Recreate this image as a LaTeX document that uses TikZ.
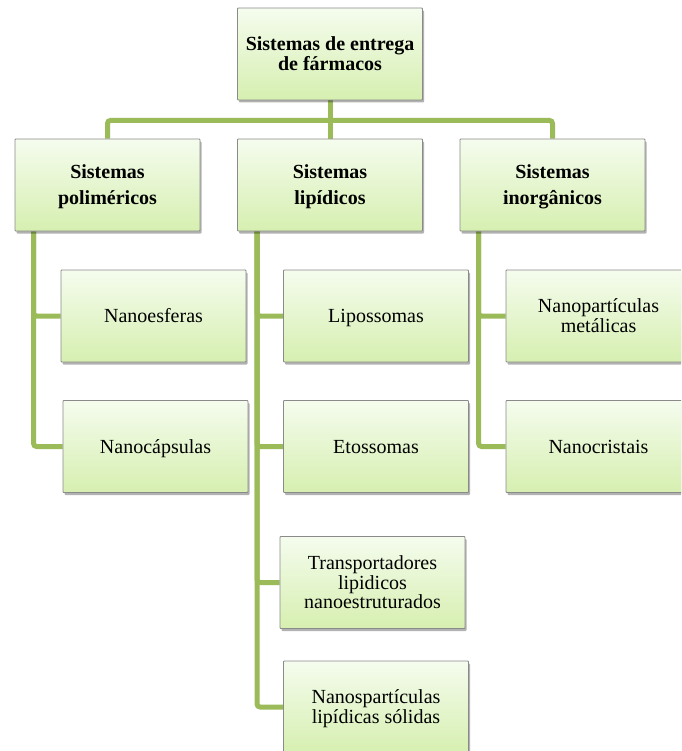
\documentclass[tikz,border=0pt]{standalone}
\usepackage{fontspec}
\setmainfont{Liberation Serif}
\usetikzlibrary{shadows,calc}
\pgfdeclarelayer{background}
\pgfsetlayers{background,main}
\definecolor{conncol}{HTML}{9BBB59}
\definecolor{boxborder}{HTML}{8A8A8A}
\definecolor{boxtop}{HTML}{F5FCEE}
\definecolor{boxbot}{HTML}{D6EFB0}
\newcommand\bxtop{\rule{0pt}{18pt}}
\newcommand\bxbot{\rule[-4.8pt]{0pt}{4.8pt}}
\AtBeginDocument{\lineskiplimit=-50pt}
\tikzset{
  boxnode/.style={rectangle, draw=boxborder, line width=0.9pt, top color=boxtop, bottom color=boxbot,
    minimum width=185pt, minimum height=92pt, inner sep=0pt, align=center, text=black,
    rounded corners=0.8pt,
    drop shadow={shadow xshift=1.5pt, shadow yshift=-2.5pt, opacity=0.3, fill=black}},
  topbox/.style={boxnode, font=\fontsize{20}{19.5}\selectfont\bfseries},
  lvlbox/.style={boxnode, font=\fontsize{20}{26}\selectfont\bfseries},
  leafbox/.style={boxnode, font=\fontsize{20}{19.5}\selectfont},
  conn/.style={draw=conncol, line width=5pt, rounded corners=3pt}
}
\begin{document}
\begin{tikzpicture}[x=1pt,y=-1pt]
\useasboundingbox (0,0) rectangle (681,751);
\clip (0,0) rectangle (681,751);
% nodes
\node[topbox] (root) at (330,54) {\bxtop Sistemas de entrega\\de fármacos\bxbot};
\node[lvlbox] (pol) at (107.5,185) {\bxtop Sistemas\\poliméricos\bxbot};
\node[lvlbox] (lip) at (330,185) {\bxtop Sistemas\\lipídicos\bxbot};
\node[lvlbox] (ino) at (552.5,185) {\bxtop Sistemas\\inorgânicos\bxbot};
\node[leafbox] (nesf) at (153.5,316) {\bxtop Nanoesferas\bxbot};
\node[leafbox] (ncap) at (155.5,446.5) {\bxtop Nanocápsulas\bxbot};
\node[leafbox] (lipo) at (376,316) {\bxtop Lipossomas\bxbot};
\node[leafbox] (etos) at (376,446.5) {\bxtop Etossomas\bxbot};
\node[leafbox] (tran) at (372.5,582.5) {\bxtop Transportadores\\lipidicos\\nanoestruturados\bxbot};
\node[leafbox] (nls) at (376,707) {\bxtop Nanospartículas\\lipídicas sólidas\bxbot};
\node[leafbox] (nmet) at (598.5,316) {\bxtop Nanopartículas\\metálicas\bxbot};
\node[leafbox] (ncri) at (598.5,446.5) {\bxtop Nanocristais\bxbot};
% junction coordinates
\coordinate (j) at ($(root.south)+(0,20)$);
\coordinate (pv) at ($(pol.south west)+(19,0)$);
\coordinate (lv) at ($(lip.south west)+(20,0)$);
\coordinate (iv) at ($(ino.south west)+(19,0)$);
% connectors
\begin{pgfonlayer}{background}
\draw[conn] (root.south) -- (lip.north);
\draw[conn] (pol.north) |- (j) -| (ino.north);
\draw[conn] (pv) |- (nesf.west);
\draw[conn] (pv) |- (ncap.west);
\draw[conn] (lv) |- (lipo.west);
\draw[conn] (lv) |- (etos.west);
\draw[conn] (lv) |- (tran.west);
\draw[conn] (lv) |- (nls.west);
\draw[conn] (iv) |- (nmet.west);
\draw[conn] (iv) |- (ncri.west);
\end{pgfonlayer}
\end{tikzpicture}
\end{document}
